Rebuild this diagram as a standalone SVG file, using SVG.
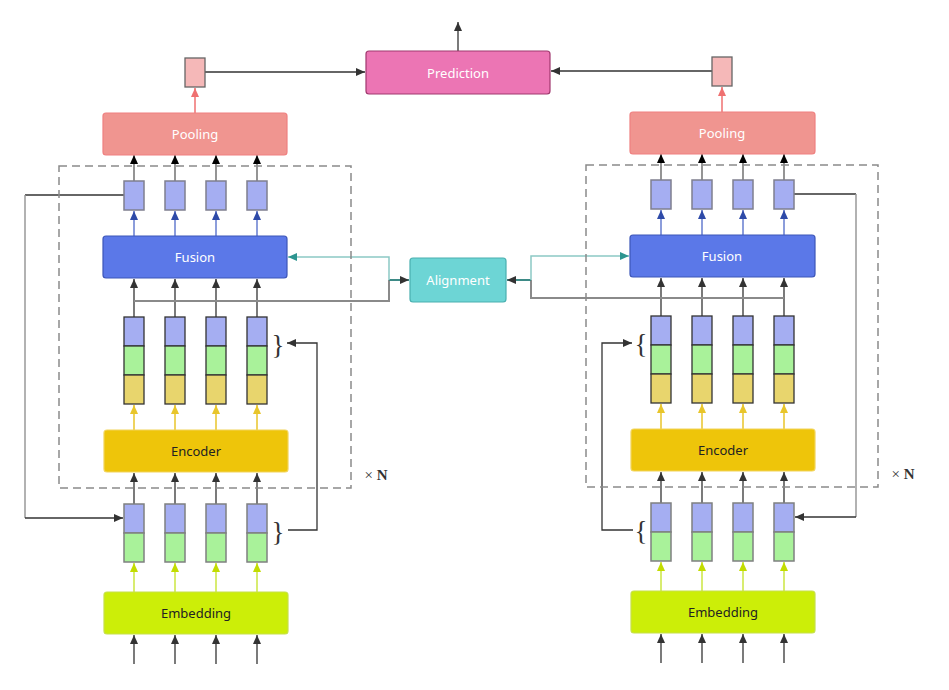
<svg xmlns="http://www.w3.org/2000/svg" width="949" height="690" viewBox="0 0 949 690">
<style>
text{font-family:"Noto Sans","Open Sans","Liberation Sans",sans-serif;font-size:13px;text-anchor:middle;dominant-baseline:central}
.wt{fill:#ffffff}
.dk{fill:#222222}
.ln{fill:none;stroke:#333;stroke-width:1.3}
.gl{fill:none;stroke:#7a7a7a;stroke-width:1.6}
.bl{fill:none;stroke:#8c9ddb;stroke-width:2}
.yl{fill:none;stroke:#e8c52a;stroke-width:1.5}
.lm{fill:none;stroke:#d8ec70;stroke-width:2}
.tb{fill:#a5aef2;stroke:#7f7f8f;stroke-width:1.5}
.cb{fill:#a5aef2;stroke:#333;stroke-width:1.3}
.cg{fill:#a9f29a;stroke:#333;stroke-width:1.3}
.cy{fill:#e8d56d;stroke:#333;stroke-width:1.3}
.bb{fill:#a5aef2;stroke:#7f8080;stroke-width:1.5}
.bg{fill:#a9f29a;stroke:#7f8080;stroke-width:1.5}
.dash{fill:none;stroke:#8a8a8a;stroke-width:1.5;stroke-dasharray:8 5}
.br{font-family:"Liberation Serif","DejaVu Serif",serif;font-size:27px;fill:#333}
.xn{font-family:"Liberation Serif","DejaVu Serif",serif;font-size:15px;fill:#333}
</style>
<defs>
<marker id="aD" viewBox="0 0 9 8" refX="9" refY="4" markerWidth="9" markerHeight="8" markerUnits="userSpaceOnUse" orient="auto"><path d="M0,0 L9,4 L0,8 z" fill="#333"/></marker>
<marker id="aK" viewBox="0 0 9 8" refX="9" refY="4" markerWidth="9" markerHeight="8" markerUnits="userSpaceOnUse" orient="auto"><path d="M0,0 L9,4 L0,8 z" fill="#000"/></marker>
<marker id="aB" viewBox="0 0 9 8" refX="9" refY="4" markerWidth="9" markerHeight="8" markerUnits="userSpaceOnUse" orient="auto"><path d="M0,0 L9,4 L0,8 z" fill="#2e4aa8"/></marker>
<marker id="aY" viewBox="0 0 9 8" refX="9" refY="4" markerWidth="9" markerHeight="8" markerUnits="userSpaceOnUse" orient="auto"><path d="M0,0 L9,4 L0,8 z" fill="#e8c52a"/></marker>
<marker id="aL" viewBox="0 0 9 8" refX="9" refY="4" markerWidth="9" markerHeight="8" markerUnits="userSpaceOnUse" orient="auto"><path d="M0,0 L9,4 L0,8 z" fill="#c2dc00"/></marker>
<marker id="aS" viewBox="0 0 9 8" refX="9" refY="4" markerWidth="9" markerHeight="8" markerUnits="userSpaceOnUse" orient="auto"><path d="M0,0 L9,4 L0,8 z" fill="#ef7070"/></marker>
<marker id="aT" viewBox="0 0 9 8" refX="9" refY="4" markerWidth="9" markerHeight="8" markerUnits="userSpaceOnUse" orient="auto"><path d="M0,0 L9,4 L0,8 z" fill="#2d9590"/></marker>
</defs>

<g id="connectors">
<path class="ln" d="M458,51 V22" marker-end="url(#aD)"/>
<path class="ln" d="M205,72 H365" marker-end="url(#aD)"/>
<path class="ln" d="M712,71 H551" marker-end="url(#aD)"/>
<path fill="none" stroke="#ef7070" stroke-width="1.5" d="M195,113 V88" marker-end="url(#aS)"/>
<path fill="none" stroke="#ef7070" stroke-width="1.5" d="M722,112 V87" marker-end="url(#aS)"/>
<g marker-end="url(#aK)" class="gl"><path d="M134,181 V155"/><path d="M175,181 V155"/><path d="M216,181 V155"/><path d="M257,181 V155"/></g>
<g marker-end="url(#aB)" class="bl"><path d="M134,236 V211"/><path d="M175,236 V211"/><path d="M216,236 V211"/><path d="M257,236 V211"/></g>
<g marker-end="url(#aD)" class="ln"><path d="M134,317 V279"/><path d="M175,317 V279"/><path d="M216,317 V279"/><path d="M257,317 V279"/></g>
<g marker-end="url(#aY)" class="yl"><path d="M134,430 V405"/><path d="M175,430 V405"/><path d="M216,430 V405"/><path d="M257,430 V405"/></g>
<g marker-end="url(#aD)" class="ln"><path d="M134,504 V473"/><path d="M175,504 V473"/><path d="M216,504 V473"/><path d="M257,504 V473"/></g>
<g marker-end="url(#aL)" class="lm"><path d="M134,592 V563"/><path d="M175,592 V563"/><path d="M216,592 V563"/><path d="M257,592 V563"/></g>
<g marker-end="url(#aD)" class="ln"><path d="M134,664 V635"/><path d="M175,664 V635"/><path d="M216,664 V635"/><path d="M257,664 V635"/></g>
<g marker-end="url(#aK)" class="gl"><path d="M661,180 V154"/><path d="M702,180 V154"/><path d="M743,180 V154"/><path d="M784,180 V154"/></g>
<g marker-end="url(#aB)" class="bl"><path d="M661,235 V210"/><path d="M702,235 V210"/><path d="M743,235 V210"/><path d="M784,235 V210"/></g>
<g marker-end="url(#aD)" class="ln"><path d="M661,316 V278"/><path d="M702,316 V278"/><path d="M743,316 V278"/><path d="M784,316 V278"/></g>
<g marker-end="url(#aY)" class="yl"><path d="M661,429 V404"/><path d="M702,429 V404"/><path d="M743,429 V404"/><path d="M784,429 V404"/></g>
<g marker-end="url(#aD)" class="ln"><path d="M661,503 V472"/><path d="M702,503 V472"/><path d="M743,503 V472"/><path d="M784,503 V472"/></g>
<g marker-end="url(#aL)" class="lm"><path d="M661,591 V562"/><path d="M702,591 V562"/><path d="M743,591 V562"/><path d="M784,591 V562"/></g>
<g marker-end="url(#aD)" class="ln"><path d="M661,663 V634"/><path d="M702,663 V634"/><path d="M743,663 V634"/><path d="M784,663 V634"/></g>
<path fill="none" stroke="#8a8a8a" stroke-width="2" d="M134,301 H389 V280"/>
<path fill="none" stroke="#3d8a86" stroke-width="2" d="M389,280 H409" marker-end="url(#aD)"/>
<path fill="none" stroke="#8cc9c5" stroke-width="1.5" d="M389,280 V257 H288" marker-end="url(#aT)"/>
<path fill="none" stroke="#8a8a8a" stroke-width="2" d="M784,298 H531 V280"/>
<path fill="none" stroke="#3d8a86" stroke-width="2" d="M531,280 H507" marker-end="url(#aD)"/>
<path fill="none" stroke="#8cc9c5" stroke-width="1.5" d="M531,280 V256 H629" marker-end="url(#aT)"/>
<path class="ln" d="M124,195 H25"/>
<path fill="none" stroke="#999" stroke-width="1.5" d="M25,195 V518"/>
<path class="ln" d="M25,518 H123" marker-end="url(#aD)"/>
<path class="ln" d="M794,194 H856"/>
<path fill="none" stroke="#999" stroke-width="1.5" d="M856,194 V517"/>
<path class="ln" d="M856,517 H795" marker-end="url(#aD)"/>
<path class="ln" d="M288,530 H317 V343 H287" marker-end="url(#aD)"/>
<path class="ln" d="M633,530 H602 V343 H632" marker-end="url(#aD)"/>
</g>

<g id="prediction">
<rect x="366" y="51" width="184" height="43" rx="3" fill="#ec75b4" stroke="#a0386e" stroke-width="1.2"/>
<text class="wt" x="458" y="72.5">Prediction</text>
</g>
<g id="alignment">
<rect x="410" y="258" width="96" height="44" rx="3" fill="#6dd5d5" stroke="#4ab0b0" stroke-width="1.2"/>
<text class="wt" x="458" y="280">Alignment</text>
</g>

<g id="pooled-left"><rect x="185" y="58" width="20" height="29" fill="#f5b8b8" stroke="#666" stroke-width="1.3"/></g>
<g id="pooling-left">
<rect x="103" y="113" width="184" height="42" rx="3" fill="#f09590" stroke="#ef8080" stroke-width="1.2"/>
<text class="wt" x="195" y="134">Pooling</text>
</g>
<g id="layer-box-left"><rect class="dash" x="59" y="166" width="292" height="322"/></g>
<g id="fused-left">
<rect class="tb" x="124" y="181" width="20" height="29"/>
<rect class="tb" x="165" y="181" width="20" height="29"/>
<rect class="tb" x="206" y="181" width="20" height="29"/>
<rect class="tb" x="247" y="181" width="20" height="29"/>
</g>
<g id="fusion-left">
<rect x="103" y="236" width="184" height="42" rx="3" fill="#5b78e8" stroke="#3d56b8" stroke-width="1.2"/>
<text class="wt" x="195" y="257">Fusion</text>
</g>
<g id="concat-left">
<rect class="cb" x="124" y="317" width="20" height="29"/><rect class="cg" x="124" y="346" width="20" height="29"/><rect class="cy" x="124" y="375" width="20" height="29"/>
<rect class="cb" x="165" y="317" width="20" height="29"/><rect class="cg" x="165" y="346" width="20" height="29"/><rect class="cy" x="165" y="375" width="20" height="29"/>
<rect class="cb" x="206" y="317" width="20" height="29"/><rect class="cg" x="206" y="346" width="20" height="29"/><rect class="cy" x="206" y="375" width="20" height="29"/>
<rect class="cb" x="247" y="317" width="20" height="29"/><rect class="cg" x="247" y="346" width="20" height="29"/><rect class="cy" x="247" y="375" width="20" height="29"/>
<text class="br" x="278" y="345">}</text>
</g>
<g id="encoder-left">
<rect x="104" y="430" width="184" height="42" rx="3" fill="#eec50a" stroke="#f2d45a" stroke-width="1.2"/>
<text class="dk" x="196" y="451">Encoder</text>
</g>
<g id="times-n-left"><text class="xn" x="376" y="475">× <tspan font-weight="bold">N</tspan></text></g>
<g id="embedded-left">
<rect class="bb" x="124" y="504" width="20" height="29"/><rect class="bg" x="124" y="533" width="20" height="29"/>
<rect class="bb" x="165" y="504" width="20" height="29"/><rect class="bg" x="165" y="533" width="20" height="29"/>
<rect class="bb" x="206" y="504" width="20" height="29"/><rect class="bg" x="206" y="533" width="20" height="29"/>
<rect class="bb" x="247" y="504" width="20" height="29"/><rect class="bg" x="247" y="533" width="20" height="29"/>
<text class="br" x="278" y="532">}</text>
</g>
<g id="embedding-left">
<rect x="104" y="592" width="184" height="42" rx="3" fill="#ccee08" stroke="#c6e04a" stroke-width="1.2"/>
<text class="dk" x="196" y="613">Embedding</text>
</g>

<g id="pooled-right"><rect x="712" y="57" width="20" height="29" fill="#f5b8b8" stroke="#666" stroke-width="1.3"/></g>
<g id="pooling-right">
<rect x="630" y="112" width="185" height="42" rx="3" fill="#f09590" stroke="#ef8080" stroke-width="1.2"/>
<text class="wt" x="722" y="133">Pooling</text>
</g>
<g id="layer-box-right"><rect class="dash" x="586" y="165" width="292" height="322"/></g>
<g id="fused-right">
<rect class="tb" x="651" y="180" width="20" height="29"/>
<rect class="tb" x="692" y="180" width="20" height="29"/>
<rect class="tb" x="733" y="180" width="20" height="29"/>
<rect class="tb" x="774" y="180" width="20" height="29"/>
</g>
<g id="fusion-right">
<rect x="630" y="235" width="185" height="42" rx="3" fill="#5b78e8" stroke="#3d56b8" stroke-width="1.2"/>
<text class="wt" x="722" y="256">Fusion</text>
</g>
<g id="concat-right">
<rect class="cb" x="651" y="316" width="20" height="29"/><rect class="cg" x="651" y="345" width="20" height="29"/><rect class="cy" x="651" y="374" width="20" height="29"/>
<rect class="cb" x="692" y="316" width="20" height="29"/><rect class="cg" x="692" y="345" width="20" height="29"/><rect class="cy" x="692" y="374" width="20" height="29"/>
<rect class="cb" x="733" y="316" width="20" height="29"/><rect class="cg" x="733" y="345" width="20" height="29"/><rect class="cy" x="733" y="374" width="20" height="29"/>
<rect class="cb" x="774" y="316" width="20" height="29"/><rect class="cg" x="774" y="345" width="20" height="29"/><rect class="cy" x="774" y="374" width="20" height="29"/>
<text class="br" x="641" y="344">{</text>
</g>
<g id="encoder-right">
<rect x="631" y="429" width="184" height="42" rx="3" fill="#eec50a" stroke="#f2d45a" stroke-width="1.2"/>
<text class="dk" x="723" y="450">Encoder</text>
</g>
<g id="times-n-right"><text class="xn" x="903" y="474">× <tspan font-weight="bold">N</tspan></text></g>
<g id="embedded-right">
<rect class="bb" x="651" y="503" width="20" height="29"/><rect class="bg" x="651" y="532" width="20" height="29"/>
<rect class="bb" x="692" y="503" width="20" height="29"/><rect class="bg" x="692" y="532" width="20" height="29"/>
<rect class="bb" x="733" y="503" width="20" height="29"/><rect class="bg" x="733" y="532" width="20" height="29"/>
<rect class="bb" x="774" y="503" width="20" height="29"/><rect class="bg" x="774" y="532" width="20" height="29"/>
<text class="br" x="641" y="531">{</text>
</g>
<g id="embedding-right">
<rect x="631" y="591" width="184" height="42" rx="3" fill="#ccee08" stroke="#c6e04a" stroke-width="1.2"/>
<text class="dk" x="723" y="612">Embedding</text>
</g>
</svg>
